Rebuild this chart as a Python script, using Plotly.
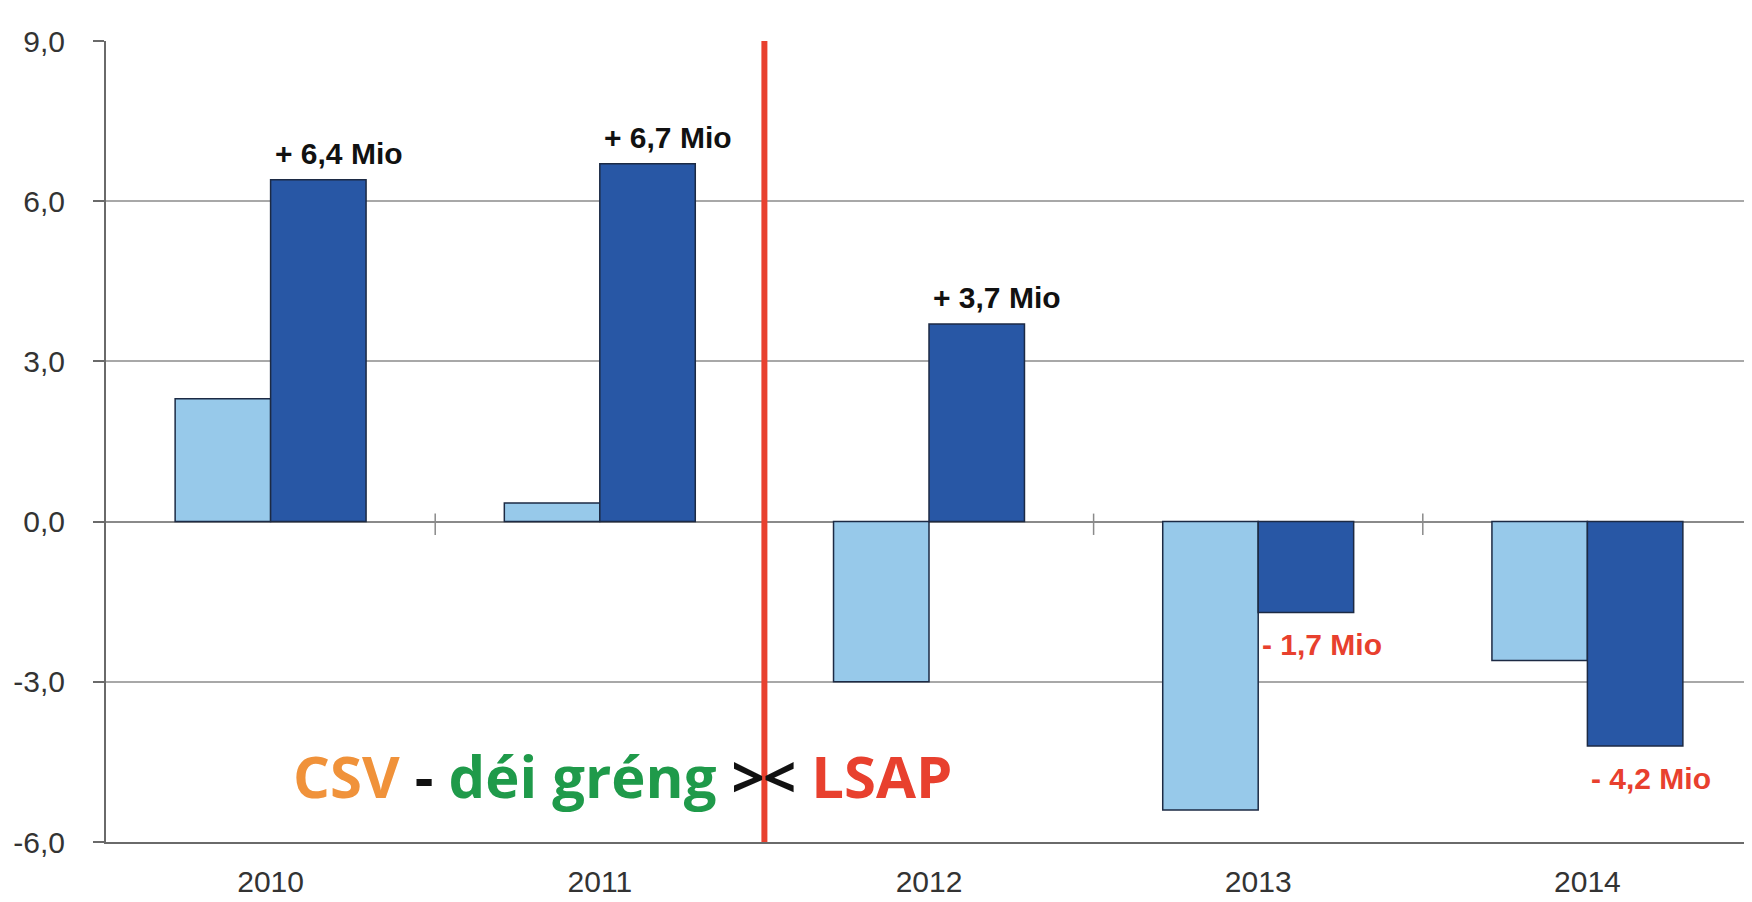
import plotly.graph_objects as go

years = ["2010", "2011", "2012", "2013", "2014"]
light_vals = [2.3, 0.35, -3.0, -5.4, -2.6]
dark_vals = [6.4, 6.7, 3.7, -1.7, -4.2]
y_ticks = [-6, -3, 0, 3, 6, 9]
y_ticktext = [f"{v:.1f}".replace(".", ",") for v in y_ticks]
divider_pos = 1.5  # between 2011 and 2012

LIGHT = "#97c9ea"
DARK = "#2857a5"
EDGE = "#1c2a44"
RED = "#e8402e"

fig = go.Figure()
fig.add_trace(go.Bar(x=years, y=light_vals, marker=dict(color=LIGHT, line=dict(color=EDGE, width=1.5)),
                     showlegend=False, hoverinfo="skip"))
fig.add_trace(go.Bar(x=years, y=dark_vals, marker=dict(color=DARK, line=dict(color=EDGE, width=1.5)),
                     showlegend=False, hoverinfo="skip"))

# value labels for dark bars (x given as category index)
for i, v in enumerate(dark_vals):
    s = f"{abs(v):.1f}".replace(".", ",")
    if v >= 0:
        fig.add_annotation(x=i, y=v, xref="x", yref="y", text=f"<b>+ {s} Mio</b>",
                           showarrow=False, xanchor="left", yanchor="bottom", xshift=2, yshift=8,
                           font=dict(family="Liberation Sans", size=30, color="#111111"))
    else:
        fig.add_annotation(x=i, y=v, xref="x", yref="y", text=f"<b>- {s} Mio</b>",
                           showarrow=False, xanchor="left", yanchor="top", xshift=2, yshift=-14,
                           font=dict(family="Liberation Sans", size=30, color=RED))

# divider line
fig.add_shape(type="line", xref="x", yref="y", x0=divider_pos, x1=divider_pos, y0=-6, y1=9,
              line=dict(color=RED, width=6), layer="above")

# small ticks on zero line at category boundaries
for b in [0.5, 2.5, 3.5]:
    fig.add_shape(type="line", xref="x", yref="y", x0=b, x1=b, y0=0.15, y1=-0.25,
                  line=dict(color="#8a8a8a", width=1.5), layer="below")

# coalition text
fig.add_annotation(x=divider_pos, y=-4.75, xref="x", yref="y", xanchor="right", yanchor="middle",
                   text='<span style="color:#f0923a">CSV</span> <span style="color:#111">-</span> '
                        '<span style="color:#1f9a4a">déi gréng</span> <span style="color:#111">&gt;</span>',
                   showarrow=False, xshift=3, yshift=0,
                   font=dict(family="Open Sans", size=58, weight="bold"))
fig.add_annotation(x=divider_pos, y=-4.75, xref="x", yref="y", xanchor="left", yanchor="middle",
                   text='<span style="color:#111">&lt;</span> <span style="color:#e8402e">LSAP</span>',
                   showarrow=False, xshift=-3, yshift=0,
                   font=dict(family="Open Sans", size=58, weight="bold"))

# page body has an 8px default margin, so the figure is sized/offset to compensate
fig.update_layout(
    width=1744, height=894,
    margin=dict(l=98, r=0, t=33, b=60),
    paper_bgcolor="white", plot_bgcolor="white",
    barmode="group", bargap=0.42, bargroupgap=0,
    font=dict(family="Liberation Sans", size=30, color="#333333"),
)
fig.update_xaxes(type="category", categoryorder="array", categoryarray=years, range=[-0.5, 4.5],
                 showgrid=False, showline=True, linecolor="#6a6a6a", linewidth=2,
                 ticks="", ticklabelstandoff=12, tickfont=dict(size=30, color="#333333"),
                 mirror=False, zeroline=False, automargin=False)
fig.update_yaxes(range=[-6, 9], tickvals=y_ticks, ticktext=y_ticktext,
                 showgrid=True, gridcolor="#a8a8a8", gridwidth=1.5,
                 zeroline=True, zerolinecolor="#8a8a8a", zerolinewidth=2,
                 showline=True, linecolor="#6a6a6a", linewidth=2,
                 ticks="outside", ticklen=11, tickcolor="#6a6a6a", tickwidth=1.5,
                 ticklabelstandoff=22, tickfont=dict(size=30, color="#333333"), automargin=False)

fig.write_html("out.html")
